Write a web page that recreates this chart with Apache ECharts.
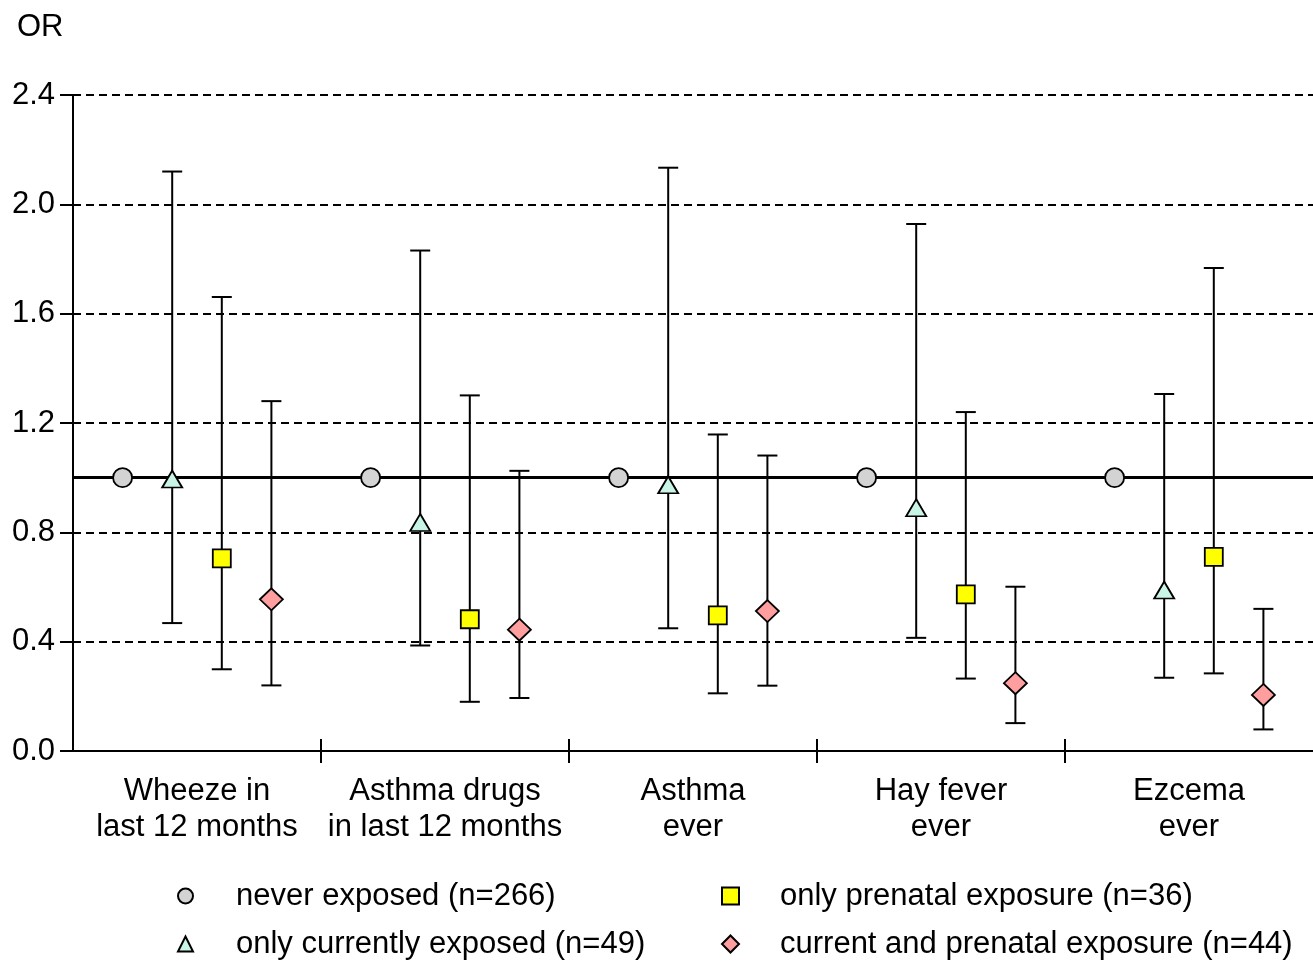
<!DOCTYPE html>
<html>
<head>
<meta charset="utf-8">
<script src="https://cdn.jsdelivr.net/npm/echarts@6/dist/echarts.min.js"></script>
<style>
html,body{margin:0;padding:0;background:#fff;}
#chart{width:1313px;height:962px;}
</style>
</head>
<body>
<div id="chart"></div>
<script>
// ---- data ----
var categories = ['Wheeze in\nlast 12 months', 'Asthma drugs\nin last 12 months', 'Asthma\never', 'Hay fever\never', 'Ezcema\never'];
var seriesNames = ['never exposed (n=266)', 'only currently exposed (n=49)', 'only prenatal exposure (n=36)', 'current and prenatal exposure (n=44)'];
var yTicks = [0, 0.4, 0.8, 1.2, 1.6, 2.0, 2.4];

var neverOR = [1.0, 1.0, 1.0, 1.0, 1.0];

var currentOR   = [0.995, 0.836, 0.974, 0.890, 0.589];
var currentLow  = [0.468, 0.386, 0.449, 0.414, 0.268];
var currentHigh = [2.120, 1.831, 2.134, 1.928, 1.306];

var prenatalOR   = [0.705, 0.482, 0.496, 0.573, 0.710];
var prenatalLow  = [0.299, 0.180, 0.211, 0.265, 0.284];
var prenatalHigh = [1.661, 1.301, 1.158, 1.240, 1.767];

var bothOR   = [0.555, 0.444, 0.512, 0.248, 0.205];
var bothLow  = [0.240, 0.194, 0.239, 0.102, 0.079];
var bothHigh = [1.280, 1.025, 1.081, 0.601, 0.520];

// ---- layout helpers ----
var SLOTS = 5; // slots per category group (4 markers + spacing)
function xPos(group, s) { return group * SLOTS + s + 1; }

function points(vals, s) {
  return vals.map(function (v, g) { return [xPos(g, s), v]; });
}
function bars(low, high, s) {
  return low.map(function (l, g) { return [xPos(g, s), l, high[g]]; });
}

var FONT = 'Liberation Sans, Arial, sans-serif';
var FS = 31;

var catCenters = categories.map(function (c, i) { return i * SLOTS + SLOTS / 2; });
var boundaries = [];
for (var i = 1; i < categories.length; i++) boundaries.push(i * SLOTS);

function errorBarRender(params, api) {
  var x = api.value(0);
  var lo = api.coord([x, api.value(1)]);
  var hi = api.coord([x, api.value(2)]);
  var cap = 10;
  var style = { stroke: '#000', lineWidth: 2, fill: null };
  return {
    type: 'group',
    children: [
      { type: 'line', shape: { x1: lo[0], y1: lo[1], x2: hi[0], y2: hi[1] }, style: style },
      { type: 'line', shape: { x1: lo[0] - cap, y1: lo[1], x2: lo[0] + cap, y2: lo[1] }, style: style },
      { type: 'line', shape: { x1: hi[0] - cap, y1: hi[1], x2: hi[0] + cap, y2: hi[1] }, style: style }
    ]
  };
}

var chart = echarts.init(document.getElementById('chart'), null, { renderer: 'canvas' });

var xMax = categories.length * SLOTS;

var legendText = { fontFamily: FONT, fontSize: 31, color: '#000', lineHeight: 36 };

var option = {
  backgroundColor: '#fff',
  animation: false,
  textStyle: { fontFamily: FONT, color: '#000' },
  title: {
    text: 'OR',
    left: 12,
    top: 7,
    textStyle: { fontFamily: FONT, fontSize: FS, fontWeight: 'normal', color: '#000' }
  },
  grid: { left: 73, right: 0, top: 95, bottom: 211, containLabel: false },
  xAxis: [
    {
      type: 'value',
      min: 0, max: xMax, interval: SLOTS,
      axisLine: { show: true, lineStyle: { color: '#000', width: 2 } },
      axisTick: { show: true, length: 12, lineStyle: { color: '#000', width: 2 }, customValues: boundaries },
      axisLabel: {
        show: true,
        customValues: catCenters,
        margin: 22,
        fontFamily: FONT, fontSize: FS, color: '#000', lineHeight: 36, align: 'center',
        formatter: function (v) {
          var idx = Math.round((v - SLOTS / 2) / SLOTS);
          return categories[idx] || '';
        }
      },
      splitLine: { show: false }
    },
    {
      type: 'value',
      min: 0, max: xMax, interval: SLOTS,
      position: 'bottom',
      axisLine: { show: false },
      axisTick: { show: true, inside: true, length: 12, lineStyle: { color: '#000', width: 2 }, customValues: boundaries },
      axisLabel: { show: false },
      splitLine: { show: false }
    }
  ],
  yAxis: {
    type: 'value',
    min: 0, max: 2.4, interval: 0.4,
    axisLine: { show: true, lineStyle: { color: '#000', width: 2 } },
    axisTick: { show: true, length: 13, lineStyle: { color: '#000', width: 2 } },
    axisLabel: {
      margin: 18,
      fontFamily: FONT, fontSize: FS, color: '#000',
      formatter: function (v) {
        var idx = yTicks.findIndex(function (t) { return Math.abs(t - v) < 1e-6; });
        return idx >= 0 ? yTicks[idx].toFixed(1) : '';
      }
    },
    splitLine: { show: true, lineStyle: { color: '#000', width: 2, type: [8, 5] } }
  },
  legend: [
    {
      data: [seriesNames[0], seriesNames[1]],
      orient: 'vertical',
      left: 177, top: 878, height: 100,
      padding: 0,
      itemWidth: 15, itemHeight: 15, itemGap: 12,
      selectedMode: false,
      textStyle: Object.assign({}, legendText, { padding: [0, 0, 0, 38] })
    },
    {
      data: [seriesNames[2], seriesNames[3]],
      orient: 'vertical',
      left: 721, top: 878, height: 100,
      padding: 0,
      itemWidth: 17, itemHeight: 17, itemGap: 12,
      selectedMode: false,
      textStyle: Object.assign({}, legendText, { padding: [0, 0, 0, 36] })
    }
  ],
  series: [
    {
      name: 'ci-current', type: 'custom', renderItem: errorBarRender,
      data: bars(currentLow, currentHigh, 1), encode: { x: 0, y: [1, 2] }, z: 2, silent: true,
      markLine: {
        silent: true, symbol: 'none', z: 1,
        label: { show: false },
        lineStyle: { color: '#000', width: 3, type: 'solid' },
        data: [{ yAxis: 1 }]
      }
    },
    {
      name: 'ci-prenatal', type: 'custom', renderItem: errorBarRender,
      data: bars(prenatalLow, prenatalHigh, 2), encode: { x: 0, y: [1, 2] }, z: 2, silent: true
    },
    {
      name: 'ci-both', type: 'custom', renderItem: errorBarRender,
      data: bars(bothLow, bothHigh, 3), encode: { x: 0, y: [1, 2] }, z: 2, silent: true
    },
    {
      name: seriesNames[0], type: 'scatter', z: 5,
      symbol: 'circle', symbolSize: 19,
      itemStyle: { color: '#d3d3d3', borderColor: '#000', borderWidth: 1.8, opacity: 1 },
      data: points(neverOR, 0)
    },
    {
      name: seriesNames[1], type: 'scatter', z: 5,
      symbol: 'triangle', symbolSize: [20, 17],
      itemStyle: { color: '#c8f5e6', borderColor: '#000', borderWidth: 1.8, opacity: 1 },
      data: points(currentOR, 1)
    },
    {
      name: seriesNames[2], type: 'scatter', z: 5,
      symbol: 'rect', symbolSize: 18,
      itemStyle: { color: '#ffff00', borderColor: '#000', borderWidth: 1.8, opacity: 1 },
      data: points(prenatalOR, 2)
    },
    {
      name: seriesNames[3], type: 'scatter', z: 5,
      symbol: 'diamond', symbolSize: [23, 22],
      itemStyle: { color: '#ff9e9e', borderColor: '#000', borderWidth: 1.8, opacity: 1 },
      data: points(bothOR, 3)
    }
  ]
};

chart.setOption(option);
</script>
</body>
</html>
